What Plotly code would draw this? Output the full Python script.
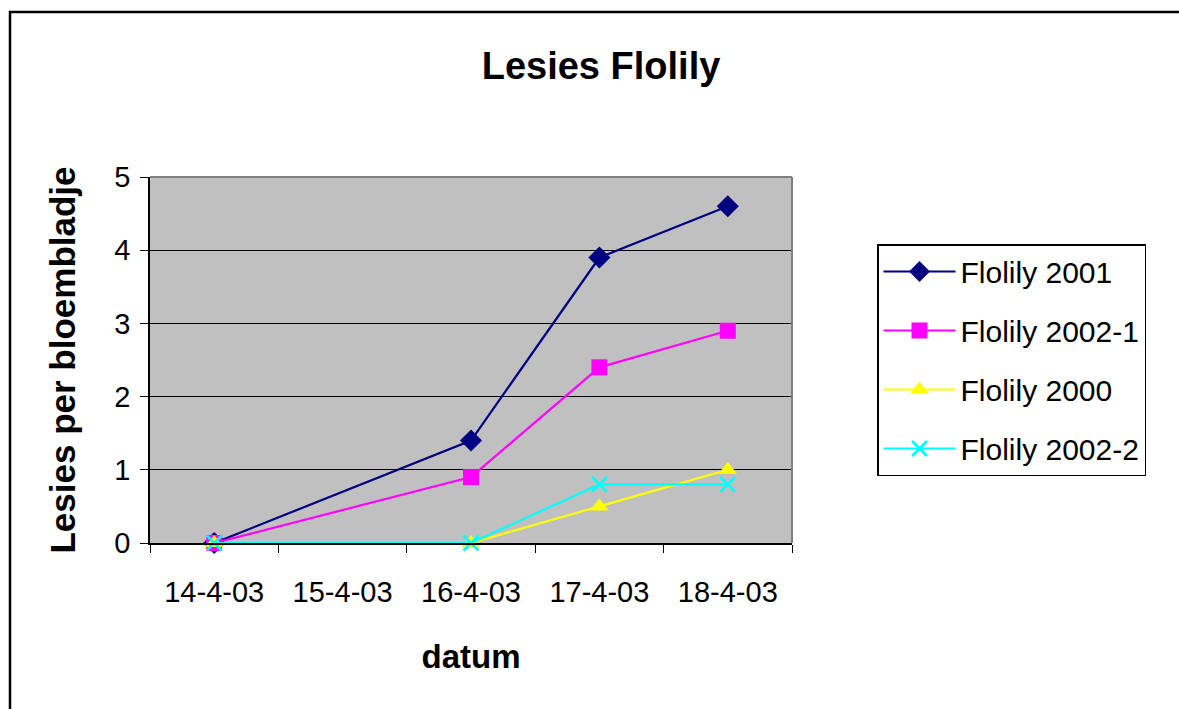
import plotly.graph_objects as go

categories = ["14-4-03", "15-4-03", "16-4-03", "17-4-03", "18-4-03"]
flolily_2001 = [0, None, 1.4, 3.9, 4.6]
flolily_2002_1 = [0, None, 0.9, 2.4, 2.9]
flolily_2000 = [0, None, 0, 0.5, 1.0]
flolily_2002_2 = [0, None, 0, 0.8, 0.8]

series = [
    ("Flolily 2001", flolily_2001, "#000080", "diamond", 17, 0),
    ("Flolily 2002-1", flolily_2002_1, "#FF00FF", "square", 16, 0),
    ("Flolily 2000", flolily_2000, "#FFFF00", "triangle-up", 16, 0),
    ("Flolily 2002-2", flolily_2002_2, "#00FFFF", "x-thin", 15, 2.5),
]

W, H = 1179, 709
L, R, T, B = 150, 1179 - 792, 177, 709 - 543
pw, ph = W - L - R, H - T - B

fig = go.Figure()
for i, (name, vals, col, sym, sz, lw) in enumerate(series):
    marker = dict(symbol=sym, size=sz, color=col)
    if lw:
        marker["line"] = dict(color=col, width=lw)
    fig.add_trace(go.Scatter(
        x=categories, y=vals, name=name, mode="lines+markers",
        connectgaps=True, line=dict(color=col, width=2.2), marker=marker,
        legendgroup=f"g{i}", cliponaxis=False,
    ))

def px(x):
    return (x - L) / pw

def py(y):
    return (H - B - y) / ph

fig.update_layout(
    width=W, height=H,
    margin=dict(l=L, r=R, t=T, b=B),
    paper_bgcolor="white",
    plot_bgcolor="#C0C0C0",
    font=dict(family="Arial, Liberation Sans, sans-serif", size=29, color="black"),
    title=dict(text="<b>Lesies Flolily</b>", x=px(601), xref="paper", xanchor="center",
               y=1 - 66 / H, yanchor="middle", font=dict(size=38)),
    showlegend=True,
    legend=dict(x=px(877), y=py(244), xanchor="left", yanchor="top",
                bordercolor="black", borderwidth=1.5, bgcolor="white",
                font=dict(size=30), tracegroupgap=17, itemwidth=72),
    xaxis=dict(type="category", range=[-0.5, 4.5], showgrid=False,
               tickson="boundaries", ticks="outside", ticklen=8, tickcolor="black",
               showline=True, linecolor="black", linewidth=1.5,
               ticklabelstandoff=22,
               title=dict(text="<b>datum</b>", font=dict(size=33), standoff=38),
               tickfont=dict(size=29)),
    yaxis=dict(range=[0, 5], dtick=1, showgrid=True, gridcolor="black", gridwidth=1,
               ticks="outside", ticklen=8, tickcolor="black",
               showline=True, linecolor="black", linewidth=1.5, zeroline=False,
               ticklabelstandoff=4,
               title=dict(text="<b>Lesies per bloembladje</b>", font=dict(size=35), standoff=28),
               tickfont=dict(size=29)),
    shapes=[
        dict(type="line", xref="paper", yref="paper", x0=0, x1=1, y0=1, y1=1,
             line=dict(color="#808080", width=2), layer="above"),
        dict(type="line", xref="paper", yref="paper", x0=1, x1=1, y0=0, y1=1,
             line=dict(color="#808080", width=2), layer="above"),
        dict(type="rect", xref="paper", yref="paper", x0=px(10), x1=px(1200),
             y0=py(730), y1=py(12), line=dict(color="black", width=2.5)),
    ],
)

fig.write_html("out.html")
